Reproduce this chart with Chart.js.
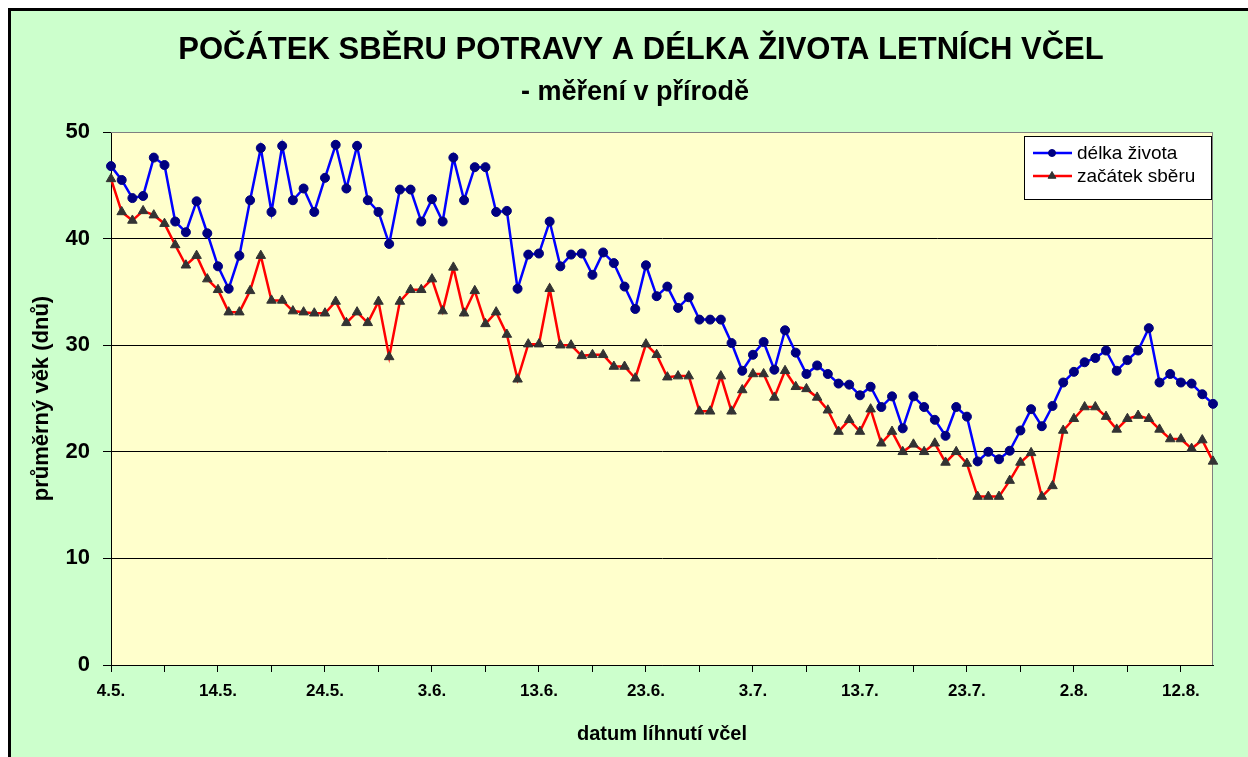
<!DOCTYPE html>
<html lang="cs">
<head>
<meta charset="utf-8">
<title>Počátek sběru potravy a délka života letních včel</title>
<script src="https://cdn.jsdelivr.net/npm/chart.js@4.4.1/dist/chart.umd.min.js"></script>
<style>
  html, body { margin: 0; padding: 0; background: #fff; overflow: hidden; }
  #frame { position: absolute; left: 8px; top: 8px; width: 1237px; height: 746px; background: #ccffcc; border-left: 3px solid #000; border-top: 3px solid #000; }
  #chart { position: absolute; left: 0; top: 0; }
</style>
</head>
<body>
<div id="frame"></div>
<canvas id="chart" width="1248" height="757"></canvas>
<script>
const chartTitle = 'POČÁTEK SBĚRU POTRAVY A DÉLKA ŽIVOTA LETNÍCH VČEL';
const chartSubtitle = '- měření v přírodě';
const xTitle = 'datum líhnutí včel';
const yTitle = 'průměrný věk (dnů)';

// datum líhnutí, 4.5. - 15.8.
const dates = [
  '4.5.', '5.5.', '6.5.', '7.5.', '8.5.', '9.5.', '10.5.', '11.5.', '12.5.', '13.5.',
  '14.5.', '15.5.', '16.5.', '17.5.', '18.5.', '19.5.', '20.5.', '21.5.', '22.5.', '23.5.',
  '24.5.', '25.5.', '26.5.', '27.5.', '28.5.', '29.5.', '30.5.', '31.5.', '1.6.', '2.6.',
  '3.6.', '4.6.', '5.6.', '6.6.', '7.6.', '8.6.', '9.6.', '10.6.', '11.6.', '12.6.',
  '13.6.', '14.6.', '15.6.', '16.6.', '17.6.', '18.6.', '19.6.', '20.6.', '21.6.', '22.6.',
  '23.6.', '24.6.', '25.6.', '26.6.', '27.6.', '28.6.', '29.6.', '30.6.', '1.7.', '2.7.',
  '3.7.', '4.7.', '5.7.', '6.7.', '7.7.', '8.7.', '9.7.', '10.7.', '11.7.', '12.7.',
  '13.7.', '14.7.', '15.7.', '16.7.', '17.7.', '18.7.', '19.7.', '20.7.', '21.7.', '22.7.',
  '23.7.', '24.7.', '25.7.', '26.7.', '27.7.', '28.7.', '29.7.', '30.7.', '31.7.', '1.8.',
  '2.8.', '3.8.', '4.8.', '5.8.', '6.8.', '7.8.', '8.8.', '9.8.', '10.8.', '11.8.',
  '12.8.', '13.8.', '14.8.', '15.8.'
];

// délka života
const lifeLength = [
  46.8, 45.5, 43.8, 44.0, 47.6, 46.9, 41.6, 40.6, 43.5, 40.5,
  37.4, 35.3, 38.4, 43.6, 48.5, 42.5, 48.7, 43.6, 44.7, 42.5,
  45.7, 48.8, 44.7, 48.7, 43.6, 42.5, 39.5, 44.6, 44.6, 41.6,
  43.7, 41.6, 47.6, 43.6, 46.7, 46.7, 42.5, 42.6, 35.3, 38.5,
  38.6, 41.6, 37.4, 38.5, 38.6, 36.6, 38.7, 37.7, 35.5, 33.4,
  37.5, 34.6, 35.5, 33.5, 34.5, 32.4, 32.4, 32.4, 30.2, 27.6,
  29.1, 30.3, 27.7, 31.4, 29.3, 27.3, 28.1, 27.3, 26.4, 26.3,
  25.3, 26.1, 24.2, 25.2, 22.2, 25.2, 24.2, 23.0, 21.5, 24.2,
  23.3, 19.1, 20.0, 19.3, 20.1, 22.0, 24.0, 22.4, 24.3, 26.5,
  27.5, 28.4, 28.8, 29.5, 27.6, 28.6, 29.5, 31.6, 26.5, 27.3,
  26.5, 26.4, 25.4, 24.5
];

// začátek sběru
const forageStart = [
  45.6, 42.5, 41.7, 42.6, 42.2, 41.4, 39.4, 37.5, 38.4, 36.2,
  35.2, 33.1, 33.1, 35.1, 38.4, 34.2, 34.2, 33.2, 33.1, 33.0,
  33.0, 34.1, 32.1, 33.1, 32.1, 34.1, 28.9, 34.1, 35.2, 35.2,
  36.2, 33.2, 37.3, 33.0, 35.1, 32.0, 33.1, 31.0, 26.8, 30.1,
  30.1, 35.3, 30.0, 30.0, 29.0, 29.1, 29.1, 28.0, 28.0, 26.9,
  30.1, 29.1, 27.0, 27.1, 27.1, 23.8, 23.8, 27.1, 23.8, 25.8,
  27.3, 27.3, 25.1, 27.6, 26.1, 25.9, 25.1, 23.9, 21.9, 23.0,
  21.9, 24.0, 20.8, 21.9, 20.0, 20.7, 20.0, 20.8, 19.0, 20.0,
  18.9, 15.8, 15.8, 15.8, 17.3, 19.0, 19.9, 15.8, 16.8, 22.0,
  23.1, 24.2, 24.2, 23.3, 22.1, 23.1, 23.4, 23.1, 22.1, 21.2,
  21.2, 20.3, 21.1, 19.1
];

const font = '"Liberation Sans", Arial, sans-serif';

// žluté pozadí grafu + šedý rámeček nahoře a vpravo
const plotArea = {
  id: 'plotArea',
  beforeDraw(chart) {
    const { ctx, chartArea: a } = chart;
    ctx.save();
    ctx.fillStyle = '#ffffcc';
    ctx.fillRect(a.left, a.top, a.right - a.left, a.bottom - a.top);
    ctx.restore();
  },
  beforeDatasetsDraw(chart) {
    const { ctx, chartArea: a } = chart;
    ctx.save();
    ctx.strokeStyle = '#808080';
    ctx.lineWidth = 1;
    ctx.beginPath();
    ctx.moveTo(a.left, a.top + 0.5);
    ctx.lineTo(a.right - 0.5, a.top + 0.5);
    ctx.lineTo(a.right - 0.5, a.bottom);
    ctx.stroke();
    ctx.restore();
  }
};

const headings = {
  id: 'headings',
  afterDraw(chart) {
    const ctx = chart.ctx;
    ctx.save();
    ctx.fillStyle = '#000';
    ctx.textAlign = 'center';
    ctx.textBaseline = 'middle';
    ctx.font = 'bold 31px ' + font;
    ctx.fillText(chartTitle, 641, 50);
    ctx.font = 'bold 27px ' + font;
    ctx.fillText(chartSubtitle, 635, 93);
    ctx.restore();
  }
};

const boxLegend = {
  id: 'boxLegend',
  afterDraw(chart) {
    const { ctx, chartArea: a } = chart;
    const w = 187, h = 63;
    const x = a.right - w - 2, y = a.top + 4;
    ctx.save();
    ctx.fillStyle = '#fff';
    ctx.fillRect(x, y, w, h);
    ctx.strokeStyle = '#000';
    ctx.lineWidth = 1;
    ctx.strokeRect(x + 0.5, y + 0.5, w, h);
    ctx.font = '19px ' + font;
    ctx.textBaseline = 'middle';
    chart.data.datasets.forEach((ds, i) => {
      const cy = y + 17 + i * 23;
      ctx.strokeStyle = ds.borderColor;
      ctx.lineWidth = 2.5;
      ctx.beginPath();
      ctx.moveTo(x + 9, cy);
      ctx.lineTo(x + 48, cy);
      ctx.stroke();
      ctx.fillStyle = ds.pointBackgroundColor;
      ctx.strokeStyle = ds.pointBorderColor;
      ctx.lineWidth = 1;
      Chart.helpers.drawPoint(ctx, { pointStyle: ds.pointStyle, radius: ds.pointRadius - 1, rotation: 0, borderWidth: 1 }, x + 28, cy);
      ctx.fillStyle = '#000';
      ctx.fillText(ds.label, x + 53, cy + 1);
    });
    ctx.restore();
  }
};

new Chart(document.getElementById('chart'), {
  type: 'line',
  data: {
    labels: dates,
    datasets: [
      {
        label: 'délka života',
        data: lifeLength,
        borderColor: '#0000ff',
        borderWidth: 2.5,
        pointStyle: 'circle',
        pointRadius: 4.5,
        pointBackgroundColor: '#000080',
        pointBorderColor: '#000080',
        pointBorderWidth: 1,
        tension: 0
      },
      {
        label: 'začátek sběru',
        data: forageStart,
        borderColor: '#ff0000',
        borderWidth: 2.5,
        pointStyle: 'triangle',
        pointRadius: 5.5,
        pointBackgroundColor: '#333333',
        pointBorderColor: '#333333',
        pointBorderWidth: 1,
        tension: 0
      }
    ]
  },
  options: {
    responsive: false,
    animation: false,
    layout: { padding: { top: 132, right: 35, bottom: 0, left: 0 } },
    plugins: {
      legend: { display: false },
      tooltip: { enabled: false }
    },
    scales: {
      x: {
        afterFit: s => { s.height = 92; },
        grid: {
          drawOnChartArea: false,
          drawTicks: true,
          tickLength: 7,
          tickColor: c => c.index % 5 === 0 ? '#000' : 'rgba(0,0,0,0)'
        },
        border: { color: '#000', width: 1 },
        ticks: {
          autoSkip: false,
          maxRotation: 0,
          minRotation: 0,
          padding: 9,
          color: '#000',
          font: { family: font, size: 17, weight: 'bold' },
          callback: (v, i) => i % 10 === 0 ? dates[i] : ''
        },
        title: {
          display: true,
          text: xTitle,
          color: '#000',
          font: { family: font, size: 20, weight: 'bold' },
          padding: { top: 0, bottom: 11 }
        }
      },
      y: {
        min: 0,
        max: 50,
        afterFit: s => { s.width = 111; },
        grid: {
          color: c => c.tick && c.tick.value === 50 ? '#808080' : '#000',
          tickColor: '#000',
          tickLength: 8,
          lineWidth: 1
        },
        border: { color: '#000', width: 1 },
        ticks: {
          stepSize: 10,
          padding: 13,
          color: '#000',
          font: { family: font, size: 22, weight: 'bold' }
        },
        title: {
          display: true,
          text: yTitle,
          color: '#000',
          font: { family: font, size: 22, weight: 'bold' },
          padding: { top: 29, bottom: 0 }
        }
      }
    }
  },
  plugins: [plotArea, headings, boxLegend]
});
</script>
</body>
</html>
